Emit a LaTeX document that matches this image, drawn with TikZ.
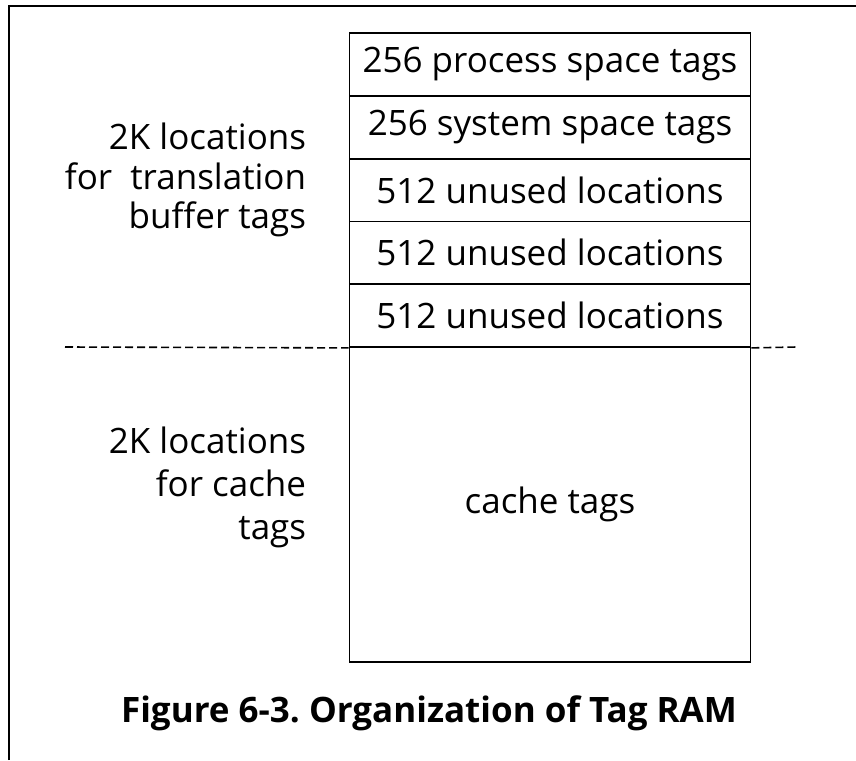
\documentclass[tikz,border=0pt]{standalone}
\usepackage{fontspec}
\setmainfont{Open Sans}
\frenchspacing
\begin{document}
\begin{tikzpicture}[x=1pt,y=-1pt,
  line width=1.8pt,
  cell/.style={draw, line width=1.8pt, minimum width=401pt, inner sep=0pt,
    font=\fontsize{35}{40}\selectfont},
  lbl/.style={align=right, anchor=east, inner sep=0pt},
  sep/.style={dashed, dash pattern=on 8pt off 4pt, line width=1.6pt}]
\useasboundingbox (0,0) rectangle (856,760);
% outer frame (top and left edges)
\draw[line width=1.6pt] (9,760) -- (9,6) -- (856,6);
% tag RAM rows
\node[cell, minimum height=62.8pt] (r1) at (550,64.4)  {256 process space tags};
\node[cell, minimum height=62.8pt] (r2) at (550,127.2) {256 system space tags};
\node[cell, minimum height=62.8pt] (r3) at (550,190)   {512 unused locations};
\node[cell, minimum height=62.8pt] (r4) at (550,252.8) {512 unused locations};
\node[cell, minimum height=62.8pt] (r5) at (550,315.6) {512 unused locations};
\node[cell, minimum height=315pt]  (r6) at (550,504.5) {cache tags};
% boundary between the two halves
\coordinate (dl) at (65,347);
\coordinate (dr) at (797,347);
\draw[sep] (dl) -- (r5.south west);
\draw[sep] (r5.south east) -- (dr);
% side labels
\node[lbl, font=\fontsize{35}{39.5}\selectfont] (tb) at (307,180)
  {2K locations\\for\ \ translation\\buffer tags};
\node[lbl, font=\fontsize{35}{43}\selectfont] (ct) at (307,487)
  {2K locations\\for cache\\tags};
% caption
\node[font=\fontsize{35}{40}\selectfont\bfseries] (cap) at (429,713)
  {Figure 6-3. Organization of Tag RAM};
\end{tikzpicture}
\end{document}
